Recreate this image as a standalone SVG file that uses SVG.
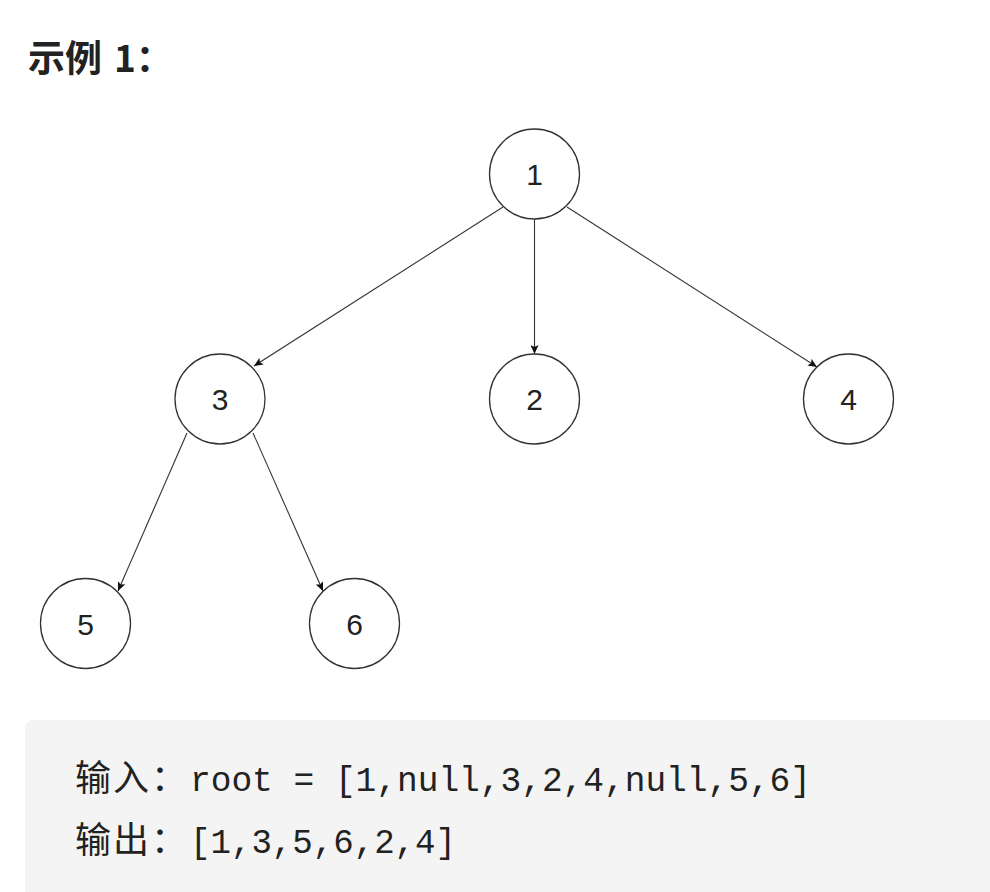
<svg xmlns="http://www.w3.org/2000/svg" width="990" height="892" viewBox="0 0 990 892">
<style>
.node circle{fill:#fff;stroke:#333;stroke-width:1.3}
.node text{font-family:"Liberation Sans",Arial,sans-serif;font-size:30px;fill:#222;text-anchor:middle}
.edge{stroke:#333;stroke-width:1.1;fill:none;marker-end:url(#arr)}
.code{font-family:"Liberation Mono","Noto Sans CJK SC",monospace;font-size:35px;fill:#222}
.cjk{font-family:"Noto Sans CJK SC",sans-serif;font-size:36px;fill:#222}
</style>
<defs>
<marker id="arr" markerWidth="10" markerHeight="8" refX="9" refY="4" orient="auto" markerUnits="userSpaceOnUse">
<path d="M0,0 L9,4 L0,8 L2,4 z" fill="#111"/>
</marker>
</defs>
<rect width="990" height="892" fill="#fff"/>
<text x="28" y="72" style="font-family:'Noto Sans CJK SC',sans-serif;font-size:37px;font-weight:bold;fill:#222"><tspan x="28">示例</tspan><tspan x="114">1：</tspan></text>
<g id="connectors">
<line class="edge" x1="503" y1="207" x2="254" y2="366"/>
<line class="edge" x1="534.5" y1="219" x2="534.5" y2="354"/>
<line class="edge" x1="567" y1="207" x2="817" y2="367"/>
<line class="edge" x1="187" y1="433" x2="118" y2="591"/>
<line class="edge" x1="253" y1="433" x2="323" y2="591"/>
</g>
<g id="node1" class="node"><circle cx="534.5" cy="174" r="45"/><text x="534.5" y="185">1</text></g>
<g id="node3" class="node"><circle cx="220" cy="399" r="45"/><text x="220" y="410">3</text></g>
<g id="node2" class="node"><circle cx="534.5" cy="399" r="45"/><text x="534.5" y="410">2</text></g>
<g id="node4" class="node"><circle cx="848.5" cy="399" r="45"/><text x="848.5" y="410">4</text></g>
<g id="node5" class="node"><circle cx="85.5" cy="623.5" r="45"/><text x="85.5" y="634.5">5</text></g>
<g id="node6" class="node"><circle cx="354.5" cy="623.5" r="45"/><text x="354.5" y="634.5">6</text></g>
<rect x="25" y="720" width="980" height="190" rx="8" fill="#f4f4f4"/>
<text class="cjk" x="75" y="791" textLength="112">输入：</text>
<text class="code" x="190" y="791" textLength="621" lengthAdjust="spacingAndGlyphs">root = [1,null,3,2,4,null,5,6]</text>
<text class="cjk" x="75" y="853" textLength="112">输出：</text>
<text class="code" x="190" y="853" textLength="266" lengthAdjust="spacingAndGlyphs">[1,3,5,6,2,4]</text>
</svg>
